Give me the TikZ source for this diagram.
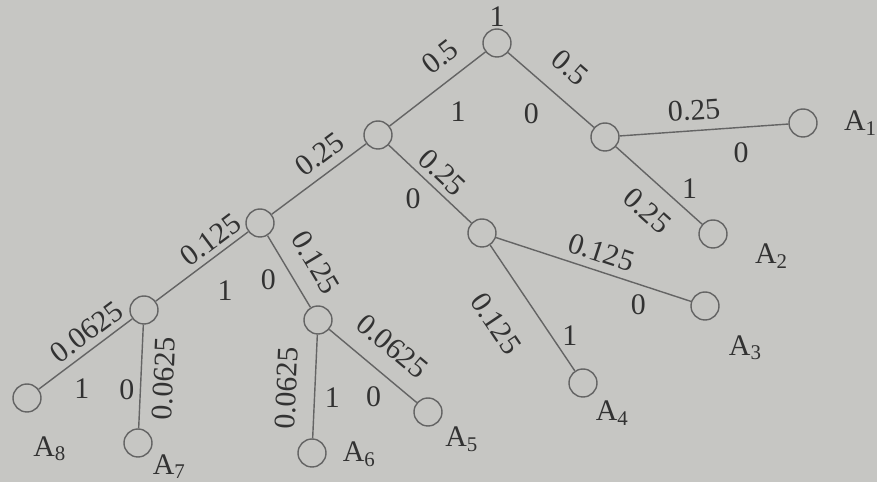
\documentclass[tikz,border=0pt]{standalone}
\usepackage{fontspec}
\setmainfont{Liberation Serif}
\usetikzlibrary{positioning}
\definecolor{paper}{RGB}{198,198,195}
\definecolor{ink}{RGB}{50,50,50}
\definecolor{edgegray}{RGB}{100,100,100}

\begin{document}
\begin{tikzpicture}[
        x=0.02cm, y=-0.02cm,
        every node/.style={font=\fontsize{17}{20}\selectfont, text=ink},
        vertex/.style={draw=edgegray, circle, minimum size=0.56cm, inner sep=0pt, line width=0.8pt},
        edge/.style={draw=edgegray, line width=0.8pt},
        prob/.style={sloped, inner sep=5pt},
        bit/.style={inner sep=5pt},
        every label/.style={inner sep=0pt}
    ]

    \fill[paper] (0,0) rectangle (877,482);
    \useasboundingbox (0,0) rectangle (877,482);

    % inner nodes
    \node[vertex, label={[label distance=1pt]above:1}] (r) at (497,43) {};
    \node[vertex] (n1) at (378,135) {};
    \node[vertex] (n2) at (605,137) {};
    \node[vertex] (n3) at (260,223) {};
    \node[vertex] (n4) at (482,233) {};
    \node[vertex] (n5) at (144,310) {};
    \node[vertex] (n6) at (318,320) {};

    % leaves
    \node[vertex, label={[label distance=14.8pt]0:A\textsubscript{1}}] (a1) at (803,123) {};
    \node[vertex, label={[label distance=16pt]-13:A\textsubscript{2}}] (a2) at (713,234) {};
    \node[vertex, label={[label distance=13pt]-51:A\textsubscript{3}}] (a3) at (705,306) {};
    \node[vertex, label={[label distance=4pt]-55:A\textsubscript{4}}] (a4) at (583,383) {};
    \node[vertex, label={[label distance=4.5pt]-41:A\textsubscript{5}}] (a5) at (428,412) {};
    \node[vertex, label={[label distance=9pt]-2:A\textsubscript{6}}] (a6) at (312,453) {};
    \node[vertex, label={[label distance=2pt]-37:A\textsubscript{7}}] (a7) at (138,443) {};
    \node[vertex, label={[label distance=13.5pt]-81:A\textsubscript{8}}] (a8) at (27,398) {};

    % edges
    \draw[edge] (r) -- node[prob, above, pos=.32, inner sep=7.5pt] {0.5}
        node[bit, below right, pos=.5, inner sep=7pt] {1} (n1);
    \draw[edge] (r) -- node[prob, above, pos=.5, inner sep=10.5pt] {0.5}
        node[bit, below left, pos=.51, inner sep=7pt] {0} (n2);
    \draw[edge] (n2) -- node[prob, above, pos=.45, inner sep=5.5pt] {0.25}
        node[bit, below, pos=.72, inner sep=8.5pt] {0} (a1);
    \draw[edge] (n2) -- node[prob, below, pos=.57, inner sep=9pt] {0.25}
        node[bit, above right, pos=.72, inner sep=2pt] {1} (a2);
    \draw[edge] (n1) -- node[prob, above, pos=.37, inner sep=5pt] {0.25} (n3);
    \draw[edge] (n1) -- node[prob, above, pos=.51, inner sep=3.5pt] {0.25}
        node[bit, below left, pos=.47, inner sep=3.5pt] {0} (n4);
    \draw[edge] (n4) -- node[prob, above, pos=.51, inner sep=4.5pt] {0.125}
        node[bit, below, pos=.73, inner sep=5.5pt] {0} (a3);
    \draw[edge] (n4) -- node[prob, below, pos=.45, inner sep=16pt] {0.125}
        node[bit, right, pos=.72, inner sep=6pt] {1} (a4);
    \draw[edge] (n3) -- node[prob, above, pos=.30, inner sep=3pt] {0.125}
        node[bit, below right, pos=.49, inner sep=8pt] {1} (n5);
    \draw[edge] (n3) -- node[prob, above, pos=.57, inner sep=9.5pt] {0.125}
        node[bit, left, pos=.62, inner sep=10pt] {0} (n6);
    \draw[edge] (n5) -- node[prob, above, pos=.38, inner sep=3.5pt] {0.0625}
        node[bit, below right, pos=.72, inner sep=5pt] {1} (a8);
    \draw[edge] (n5) -- node[prob, below, pos=.51, inner sep=7pt] {0.0625}
        node[bit, left, pos=.63, inner sep=3pt] {0} (a7);
    \draw[edge] (n6) -- node[prob, above, pos=.53, inner sep=10pt] {0.0625}
        node[bit, right, pos=.61, inner sep=5.5pt] {1} (a6);
    \draw[edge] (n6) -- node[prob, above, pos=.52, inner sep=9.5pt] {0.0625}
        node[bit, below left, pos=.68, inner sep=4pt] {0} (a5);

\end{tikzpicture}
\end{document}
